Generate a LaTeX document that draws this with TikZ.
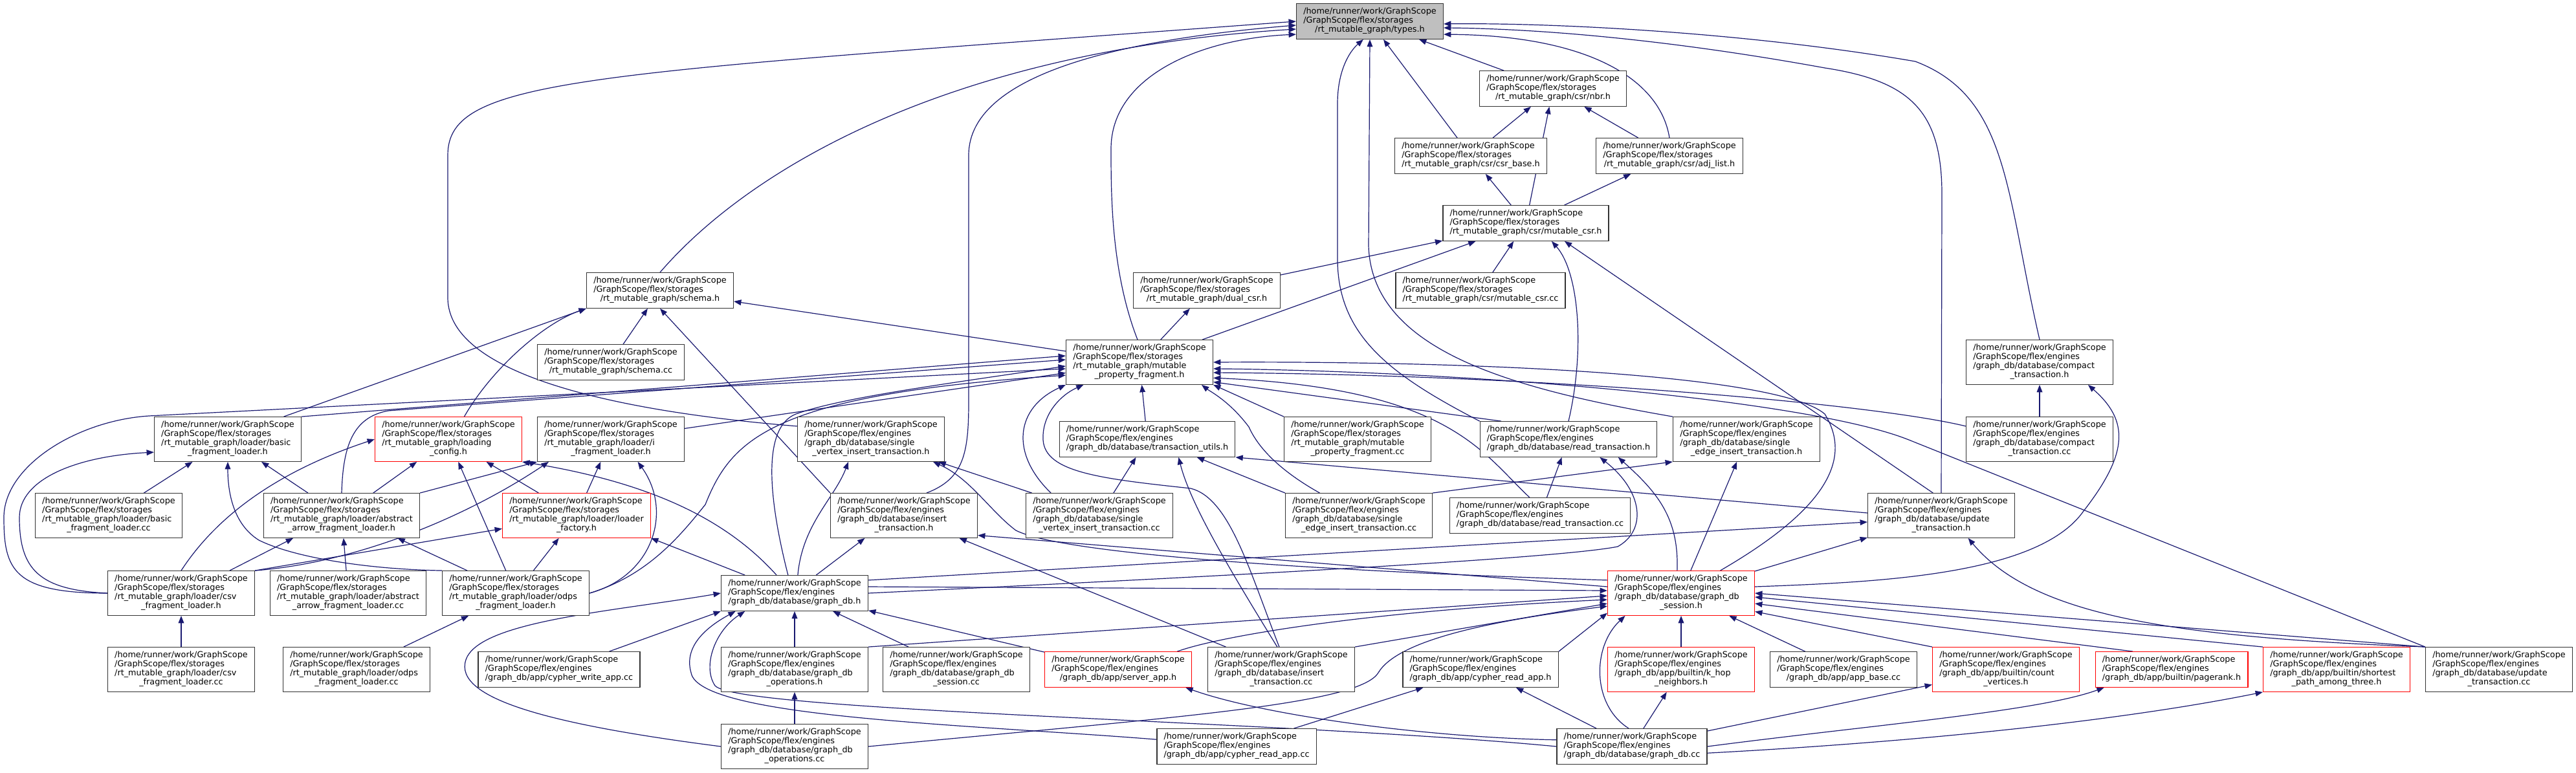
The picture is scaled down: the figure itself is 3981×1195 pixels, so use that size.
\documentclass[tikz,border=0pt]{standalone}
\usepackage{fontspec}
\setmainfont{DejaVu Sans}
\usetikzlibrary{arrows.meta, positioning, backgrounds}

\definecolor{edgeblue}{HTML}{191970}
\definecolor{rootgray}{HTML}{BFBFBF}
\newcommand{\fpath}[2]{\begin{tabular}{@{}l@{}}#1\\\multicolumn{1}{@{}c@{}}{#2}\end{tabular}}
\newcommand{\pstor}{/home/runner/work/GraphScope\\/GraphScope/flex/storages}
\newcommand{\peng}{/home/runner/work/GraphScope\\/GraphScope/flex/engines}

\begin{document}
\begin{tikzpicture}[
    x=0.75pt, y=-0.75pt,
    file/.style={rectangle, draw=black!80, line width=1pt, fill=white, inner xsep=8pt, inner ysep=4.7pt, font=\fontsize{9.6}{10.5}\selectfont},
    trunc/.style={file, draw=red},
    root/.style={file, fill=rootgray},
    inc/.style={-{Triangle[length=8.5pt,width=6.5pt]}, draw=edgeblue, line width=0.9pt}
]
\useasboundingbox (0,0) rectangle (3981,1195);

\node[root] (types) at (2117,33) {\fpath{\pstor}{/rt\_mutable\_graph/types.h}};
\node[file] (nbr) at (2400,137) {\fpath{\pstor}{/rt\_mutable\_graph/csr/nbr.h}};
\node[file] (csrbase) at (2273,241) {\fpath{\pstor}{/rt\_mutable\_graph/csr/csr\_base.h}};
\node[file] (adjlist) at (2580,241) {\fpath{\pstor}{/rt\_mutable\_graph/csr/adj\_list.h}};
\node[file] (mcsr) at (2358,345) {\fpath{\pstor}{/rt\_mutable\_graph/csr/mutable\_csr.h}};
\node[file] (mcsrcc) at (2288,449) {\fpath{\pstor}{/rt\_mutable\_graph/csr/mutable\_csr.cc}};
\node[file] (dualcsr) at (1865,449) {\fpath{\pstor}{/rt\_mutable\_graph/dual\_csr.h}};
\node[file] (schema) at (1020,449) {\fpath{\pstor}{/rt\_mutable\_graph/schema.h}};
\node[file] (schemacc) at (944,560) {\fpath{\pstor}{/rt\_mutable\_graph/schema.cc}};
\node[file] (mpf) at (1761,560) {\fpath{\pstor\\/rt\_mutable\_graph/mutable}{\_property\_fragment.h}};
\node[file] (compacth) at (3152,560) {\fpath{\peng\\/graph\_db/database/compact}{\_transaction.h}};

\node[file] (basich) at (352,679) {\fpath{\pstor\\/rt\_mutable\_graph/loader/basic}{\_fragment\_loader.h}};
\node[trunc] (loadcfg) at (693,679) {\fpath{\pstor\\/rt\_mutable\_graph/loading}{\_config.h}};
\node[file] (ifrag) at (944,679) {\fpath{\pstor\\/rt\_mutable\_graph/loader/i}{\_fragment\_loader.h}};
\node[file] (svith) at (1346,679) {\fpath{\peng\\/graph\_db/database/single}{\_vertex\_insert\_transaction.h}};
\node[file] (txutils) at (1773,679) {\fpath{\peng}{/graph\_db/database/transaction\_utils.h}};
\node[file] (mpfcc) at (2098,679) {\fpath{\pstor\\/rt\_mutable\_graph/mutable}{\_property\_fragment.cc}};
\node[file] (readh) at (2424,679) {\fpath{\peng}{/graph\_db/database/read\_transaction.h}};
\node[file] (seith) at (2699,679) {\fpath{\peng\\/graph\_db/database/single}{\_edge\_insert\_transaction.h}};
\node[file] (compactcc) at (3152,679) {\fpath{\peng\\/graph\_db/database/compact}{\_transaction.cc}};

\node[file] (basiccc) at (168,797) {\fpath{\pstor\\/rt\_mutable\_graph/loader/basic}{\_fragment\_loader.cc}};
\node[file] (abstracth) at (528,797) {\fpath{\pstor\\/rt\_mutable\_graph/loader/abstract}{\_arrow\_fragment\_loader.h}};
\node[trunc] (loaderfac) at (891,797) {\fpath{\pstor\\/rt\_mutable\_graph/loader/loader}{\_factory.h}};
\node[file] (inserth) at (1397,797) {\fpath{\peng\\/graph\_db/database/insert}{\_transaction.h}};
\node[file] (svitcc) at (1699,797) {\fpath{\peng\\/graph\_db/database/single}{\_vertex\_insert\_transaction.cc}};
\node[file] (seitcc) at (2100,797) {\fpath{\peng\\/graph\_db/database/single}{\_edge\_insert\_transaction.cc}};
\node[file] (readcc) at (2380,797) {\fpath{\peng}{/graph\_db/database/read\_transaction.cc}};
\node[file] (updateh) at (3000,797) {\fpath{\peng\\/graph\_db/database/update}{\_transaction.h}};

\node[file] (csvh) at (280,917) {\fpath{\pstor\\/rt\_mutable\_graph/loader/csv}{\_fragment\_loader.h}};
\node[file] (abstractcc) at (538,917) {\fpath{\pstor\\/rt\_mutable\_graph/loader/abstract}{\_arrow\_fragment\_loader.cc}};
\node[file] (odpsh) at (797,917) {\fpath{\pstor\\/rt\_mutable\_graph/loader/odps}{\_fragment\_loader.h}};
\node[file] (graphdbh) at (1228,917) {\fpath{\peng}{/graph\_db/database/graph\_db.h}};
\node[trunc] (gsh) at (2598,917) {\fpath{\peng\\/graph\_db/database/graph\_db}{\_session.h}};

\node[file] (csvcc) at (280,1035) {\fpath{\pstor\\/rt\_mutable\_graph/loader/csv}{\_fragment\_loader.cc}};
\node[file] (odpscc) at (551,1035) {\fpath{\pstor\\/rt\_mutable\_graph/loader/odps}{\_fragment\_loader.cc}};
\node[file] (cwriteapp) at (864,1035) {\fpath{\peng}{/graph\_db/app/cypher\_write\_app.cc}};
\node[file] (opsh) at (1228,1035) {\fpath{\peng\\/graph\_db/database/graph\_db}{\_operations.h}};
\node[file] (sessioncc) at (1478,1035) {\fpath{\peng\\/graph\_db/database/graph\_db}{\_session.cc}};
\node[trunc] (serverapp) at (1728,1035) {\fpath{\peng}{/graph\_db/app/server\_app.h}};
\node[file] (insertcc) at (1980,1035) {\fpath{\peng\\/graph\_db/database/insert}{\_transaction.cc}};
\node[file] (creadh) at (2288,1035) {\fpath{\peng}{/graph\_db/app/cypher\_read\_app.h}};
\node[trunc] (khop) at (2598,1035) {\fpath{\peng\\/graph\_db/app/builtin/k\_hop}{\_neighbors.h}};
\node[file] (appbase) at (2849,1035) {\fpath{\peng}{/graph\_db/app/app\_base.cc}};
\node[trunc] (countv) at (3100,1035) {\fpath{\peng\\/graph\_db/app/builtin/count}{\_vertices.h}};
\node[trunc] (pagerank) at (3356,1035) {\fpath{\peng}{/graph\_db/app/builtin/pagerank.h}};
\node[trunc] (shortest) at (3611,1035) {\fpath{\peng\\/graph\_db/app/builtin/shortest}{\_path\_among\_three.h}};
\node[file] (updatecc) at (3862,1035) {\fpath{\peng\\/graph\_db/database/update}{\_transaction.cc}};

\node[file] (opscc) at (1228,1154) {\fpath{\peng\\/graph\_db/database/graph\_db}{\_operations.cc}};
\node[file] (creadcc) at (1911,1154) {\fpath{\peng}{/graph\_db/app/cypher\_read\_app.cc}};
\node[file] (graphdbcc) at (2522,1154) {\fpath{\peng}{/graph\_db/database/graph\_db.cc}};

\begin{scope}[on background layer]
% csr headers
\draw[inc] (nbr) -- (types);
\draw[inc] (csrbase) -- (types);
\draw[inc] (adjlist.north) .. controls (2565,120) and (2450,55) .. (types.-10);
\draw[inc] (csrbase) -- (nbr);
\draw[inc] (adjlist) -- (nbr);
\draw[inc] (mcsr) -- (nbr);
\draw[inc] (mcsr) -- (csrbase);
\draw[inc] (mcsr) -- (adjlist);
\draw[inc] (mcsrcc) -- (mcsr);
\draw[inc] (dualcsr) -- (mcsr);
\draw[inc] (mpf) -- (mcsr);
\draw[inc] (readh.north) .. controls (2450,540) and (2440,420) .. (mcsr.-35);
\draw[inc] (updateh.110) -- (mcsr.-25);
\draw[inc] (mpf) -- (dualcsr);

% long edges up to types.h
\draw[inc] (mpf.95) .. controls (1717,420) and (1717,300) .. (1717,230) .. controls (1717,120) and (1850,60) .. (types.190);
\draw[inc] (schema.north) .. controls (1150,270) and (1450,80) .. (types.186);
\draw[inc] (svith.170) .. controls (1000,640) and (692,590) .. (692,460) -- (692,240) .. controls (692,120) and (900,115) .. (types.west);
\draw[inc] (inserth.45) .. controls (1490,740) and (1497,700) .. (1497,620) -- (1497,240) .. controls (1497,110) and (1750,60) .. (types.183);
\draw[inc] (readh.north west) .. controls (2150,580) and (2067,520) .. (2067,400) -- (2067,160) .. controls (2067,110) and (2085,80) .. (types.250);
\draw[inc] (seith.north west) .. controls (2330,600) and (2120,540) .. (2115,380) -- (types.south);
\draw[inc] (compacth.north) .. controls (3100,300) and (3105,150) .. (2960,95) .. controls (2700,50) and (2400,35) .. (types.-2);
\draw[inc] (updateh.north) -- (3001,300) .. controls (3001,170) and (2950,125) .. (2820,105) .. controls (2600,65) and (2400,45) .. (types.-5);

% schema
\draw[inc] (schemacc) -- (schema);
\draw[inc] (basich.22) -- (schema.south west);
\draw[inc] (loadcfg.55) .. controls (760,570) and (840,500) .. (schema.south west);
\draw[inc] (mpf) -- (schema);
\draw[inc] (inserth.north west) -- (schema.south);

% loaders
\draw[inc] (basiccc) -- (basich);
\draw[inc] (abstracth) -- (basich);
\draw[inc] (csvh.west) .. controls (60,912) and (30,880) .. (30,800) .. controls (30,740) and (120,705) .. (basich.190);
\draw[inc] (csvh.west) .. controls (20,917) and (6,880) .. (6,800) .. controls (6,720) and (120,650) .. (230,643) -- (mpf.185);
\draw[inc] (odpsh.north west) .. controls (560,880) and (450,860) .. (400,835) .. controls (360,810) and (352,760) .. (basich.south);
\draw[inc] (abstracth) -- (loadcfg);
\draw[inc] (odpsh) -- (loadcfg);
\draw[inc] (loaderfac) -- (loadcfg);
\draw[inc] (csvh.north) .. controls (340,790) and (440,725) .. (loadcfg.west);
\draw[inc] (csvh.25) -- (abstracth.-155);
\draw[inc] (odpsh.155) -- (abstracth.-22);
\draw[inc] (abstractcc) -- (abstracth);
\draw[inc] (csvh.north east) -- (loaderfac.-170);
\draw[inc] (odpsh) -- (loaderfac);
\draw[inc] (graphdbh.160) -- (loaderfac.south east);
\draw[inc] (csvcc) -- (csvh);
\draw[inc] (odpscc) -- (odpsh);
\draw[inc] (ifrag) -- (mpf);
\draw[inc] (abstracth.north east) -- (ifrag.south west);
\draw[inc] (loaderfac) -- (ifrag);
\draw[inc] (csvh.north east) .. controls (550,870) and (720,800) .. (ifrag.-160);
\draw[inc] (odpsh.east) .. controls (1010,890) and (1040,790) .. (ifrag.-40);
\draw[inc] (odpsh.east) .. controls (1000,890) and (1050,830) .. (1090,780) .. controls (1130,680) and (1190,610) .. (mpf.190);
\draw[inc] (graphdbh.135) .. controls (1120,800) and (1000,745) .. (loadcfg.south east);
\draw[inc] (graphdbh.110) .. controls (1185,760) and (1180,660) .. (1230,640) .. controls (1300,615) and (1450,595) .. (mpf.183);
\draw[inc] (graphdbh.80) .. controls (1240,810) and (1290,770) .. (svith.-135);
\draw[inc] (graphdbh.40) -- (inserth.-150);
\draw[inc] (basich.north east) -- (mpf.175);
\draw[inc] (abstracth.north) .. controls (530,690) and (545,645) .. (600,635) -- (mpf.178);

% mutable_property_fragment.h
\draw[inc] (txutils) -- (mpf);
\draw[inc] (mpfcc.north west) -- (mpf.south east);
\draw[inc] (svitcc.155) .. controls (1560,700) and (1570,630) .. (mpf.south west);
\draw[inc] (insertcc.95) .. controls (1930,880) and (1900,770) .. (1840,755) .. controls (1700,740) and (1615,730) .. (1612,680) .. controls (1610,640) and (1640,610) .. (mpf.-158);
\draw[inc] (insertcc.100) .. controls (1900,880) and (1840,780) .. (txutils.-30);
\draw[inc] (svitcc) -- (txutils);
\draw[inc] (seitcc.north west) -- (txutils.-20);
\draw[inc] (updateh.178) -- (txutils.south east);
\draw[inc] (seitcc.150) .. controls (2000,740) and (1950,705) .. (1930,660) .. controls (1900,620) and (1870,605) .. (mpf.-20);
\draw[inc] (readh.165) -- (mpf.-15);
\draw[inc] (readcc.120) .. controls (2290,700) and (2240,600) .. (mpf.-12);
\draw[inc] (gsh.30) .. controls (2800,800) and (2870,720) .. (2820,640) .. controls (2750,580) and (2300,558) .. (mpf.east);
\draw[inc] (updatecc.north west) -- (2950,680) .. controls (2800,620) and (2300,575) .. (mpf.-5);
\draw[inc] (compactcc.170) .. controls (2900,625) and (2400,580) .. (mpf.-8);

% transactions
\draw[inc] (svitcc) -- (svith);
\draw[inc] (gsh.170) .. controls (2100,885) and (1650,860) .. (1570,820) .. controls (1530,790) and (1500,740) .. (svith.-20);
\draw[inc] (gsh.175) -- (inserth.-15);
\draw[inc] (insertcc) -- (inserth);
\draw[inc] (readcc) -- (readh);
\draw[inc] (gsh.100) .. controls (2595,800) and (2560,760) .. (readh.-20);
\draw[inc] (graphdbh.east) .. controls (1800,895) and (2400,865) .. (2500,845) .. controls (2545,820) and (2540,760) .. (readh.-30);
\draw[inc] (gsh) -- (seith);
\draw[inc] (seitcc.north east) -- (seith.south west);
\draw[inc] (graphdbh.10) -- (updateh.-175);
\draw[inc] (gsh) -- (updateh);
\draw[inc] (updatecc.north west) .. controls (3350,985) and (3140,950) .. (updateh.-40);
\draw[inc] (compactcc) -- (compacth);
\draw[inc] (gsh.5) .. controls (2900,900) and (3150,890) .. (3220,790) .. controls (3290,700) and (3290,650) .. (compacth.-25);

% graph_db.h and graph_db_session.h
\draw[inc] (opsh) -- (graphdbh);
\draw[inc] (sessioncc) -- (graphdbh);
\draw[inc] (serverapp) -- (graphdbh);
\draw[inc] (cwriteapp) -- (graphdbh.south west);
\draw[inc] (creadcc.175) .. controls (1500,1120) and (1080,1110) .. (1068,1040) .. controls (1055,995) and (1100,965) .. (graphdbh.-163);
\draw[inc] (graphdbcc.west) .. controls (2000,1115) and (1140,1100) .. (1105,1060) .. controls (1085,1030) and (1105,975) .. (graphdbh.-160);
\draw[inc] (opscc.west) .. controls (850,1120) and (700,1080) .. (720,1020) .. controls (740,960) and (950,945) .. (graphdbh.west);
\draw[inc] (opscc) -- (opsh);
\draw[inc] (graphdbh.5) -- (gsh.178);
\draw[inc] (opsh.north east) -- (gsh.-178);
\draw[inc] (serverapp.17) .. controls (1880,985) and (2100,945) .. (gsh.-175);
\draw[inc] (insertcc.north east) -- (gsh.-172);
\draw[inc] (opscc.east) .. controls (1800,1110) and (2100,1090) .. (2130,1040) .. controls (2160,990) and (2300,960) .. (gsh.-170);
\draw[inc] (creadh.north east) -- (gsh.-165);
\draw[inc] (graphdbcc.100) .. controls (2460,1090) and (2460,1000) .. (gsh.-158);
\draw[inc] (khop) -- (gsh);
\draw[inc] (appbase) -- (gsh);
\draw[inc] (countv.north west) -- (gsh.-14);
\draw[inc] (pagerank.155) -- (gsh.-8);
\draw[inc] (shortest.north west) -- (gsh.-3);
\draw[inc] (updatecc.north west) -- (gsh.east);

% apps
\draw[inc] (graphdbcc.175) .. controls (2200,1140) and (1950,1105) .. (serverapp.-15);
\draw[inc] (graphdbcc) -- (creadh);
\draw[inc] (creadcc) -- (creadh);
\draw[inc] (graphdbcc) -- (khop);
\draw[inc] (graphdbcc) -- (countv);
\draw[inc] (graphdbcc.east) .. controls (2900,1120) and (3150,1100) .. (pagerank.-165);
\draw[inc] (graphdbcc.-5) .. controls (3000,1145) and (3300,1110) .. (shortest.south west);
\end{scope}

\end{tikzpicture}
\end{document}
